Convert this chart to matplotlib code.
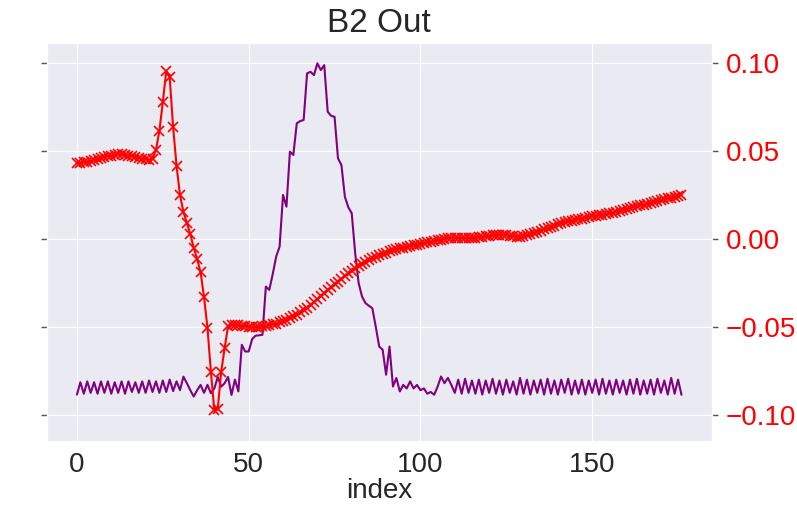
import numpy as np
import matplotlib
matplotlib.use("Agg")
import matplotlib.pyplot as plt
import seaborn as sns

# B2 output trace (right axis, red) and reference trace (left axis, purple)
b2_out = [
    0.0432, 0.0434, 0.0437, 0.0440, 0.0443, 0.0449, 0.0454, 0.0460, 0.0466, 0.0471,
    0.0474, 0.0477, 0.0480, 0.0480, 0.0477, 0.0474, 0.0471, 0.0466, 0.0460, 0.0457,
    0.0454, 0.0451, 0.0454, 0.0505, 0.0613, 0.0778, 0.0954, 0.0920, 0.0636, 0.0415,
    0.0250, 0.0153, 0.0091, 0.0028, -0.0051, -0.0114, -0.0190, -0.0330, -0.0505, -0.0755,
    -0.0975, -0.0965, -0.0754, -0.0621, -0.0495, -0.0488, -0.0490, -0.0492, -0.0494, -0.0496,
    -0.0498, -0.0499, -0.0500, -0.0499, -0.0497, -0.0494, -0.0490, -0.0486, -0.0481, -0.0475,
    -0.0468, -0.0460, -0.0451, -0.0441, -0.0430, -0.0418, -0.0405, -0.0391, -0.0376, -0.0360,
    -0.0344, -0.0327, -0.0310, -0.0293, -0.0276, -0.0259, -0.0243, -0.0227, -0.0211, -0.0196,
    -0.0182, -0.0168, -0.0155, -0.0143, -0.0132, -0.0121, -0.0111, -0.0102, -0.0093, -0.0085,
    -0.0078, -0.0071, -0.0065, -0.0059, -0.0054, -0.0049, -0.0044, -0.0040, -0.0036, -0.0032,
    -0.0028, -0.0024, -0.0020, -0.0016, -0.0012, -0.0008, -0.0004, 0.0002, 0.0004, 0.0006,
    0.0007, 0.0006, 0.0005, 0.0004, 0.0004, 0.0005, 0.0007, 0.0009, 0.0011, 0.0014,
    0.0017, 0.0020, 0.0022, 0.0023, 0.0023, 0.0021, 0.0018, 0.0015, 0.0013, 0.0013,
    0.0015, 0.0020, 0.0026, 0.0033, 0.0040, 0.0047, 0.0054, 0.0061, 0.0068, 0.0075,
    0.0082, 0.0088, 0.0094, 0.0099, 0.0104, 0.0108, 0.0112, 0.0116, 0.0120, 0.0124,
    0.0128, 0.0132, 0.0135, 0.0138, 0.0141, 0.0145, 0.0150, 0.0155, 0.0160, 0.0165,
    0.0170, 0.0175, 0.0180, 0.0185, 0.0190, 0.0195, 0.0200, 0.0205, 0.0210, 0.0215,
    0.0220, 0.0225, 0.0230, 0.0235, 0.0240, 0.0245, 0.0250,
]

ref_trace = [
    -0.0885, -0.0815, -0.0880, -0.0810, -0.0875, -0.0815, -0.0880, -0.0810, -0.0875, -0.0810,
    -0.0880, -0.0815, -0.0875, -0.0810, -0.0880, -0.0810, -0.0870, -0.0815, -0.0875, -0.0810,
    -0.0875, -0.0805, -0.0870, -0.0810, -0.0875, -0.0805, -0.0870, -0.0800, -0.0865, -0.0810,
    -0.0860, -0.0783, -0.0820, -0.0860, -0.0896, -0.0860, -0.0830, -0.0875, -0.0830, -0.0877,
    -0.0850, -0.0785, -0.0840, -0.0820, -0.0785, -0.0887, -0.0800, -0.0867, -0.0602, -0.0640,
    -0.0640, -0.0570, -0.0550, -0.0548, -0.0545, -0.0271, -0.0290, -0.0200, -0.0101, -0.0044,
    0.0250, 0.0183, 0.0496, 0.0477, 0.0657, 0.0670, 0.0676, 0.0941, 0.0950, 0.0931,
    0.0998, 0.0960, 0.0988, 0.0723, 0.0700, 0.0694, 0.0458, 0.0420, 0.0240, 0.0180,
    0.0146, -0.0081, -0.0250, -0.0328, -0.0365, -0.0380, -0.0394, -0.0500, -0.0612, -0.0630,
    -0.0772, -0.0612, -0.0839, -0.0791, -0.0867, -0.0830, -0.0850, -0.0810, -0.0850, -0.0830,
    -0.0860, -0.0850, -0.0880, -0.0870, -0.0886, -0.0840, -0.0782, -0.0820, -0.0790, -0.0830,
    -0.0875, -0.0800, -0.0880, -0.0795, -0.0875, -0.0805, -0.0880, -0.0800, -0.0885, -0.0805,
    -0.0875, -0.0795, -0.0880, -0.0805, -0.0885, -0.0800, -0.0875, -0.0810, -0.0885, -0.0790,
    -0.0880, -0.0800, -0.0885, -0.0805, -0.0875, -0.0800, -0.0885, -0.0795, -0.0880, -0.0805,
    -0.0885, -0.0800, -0.0875, -0.0795, -0.0885, -0.0805, -0.0880, -0.0800, -0.0885, -0.0805,
    -0.0875, -0.0800, -0.0885, -0.0795, -0.0880, -0.0805, -0.0885, -0.0800, -0.0875, -0.0805,
    -0.0885, -0.0800, -0.0880, -0.0795, -0.0885, -0.0805, -0.0880, -0.0800, -0.0885, -0.0795,
    -0.0875, -0.0805, -0.0885, -0.0790, -0.0880, -0.0800, -0.0886,
]

y_ticks = [-0.10, -0.05, 0.00, 0.05, 0.10]
x_ticks = [0, 50, 100, 150]

sns.set_style("darkgrid")
plt.rcParams["font.family"] = ["Liberation Sans", "DejaVu Sans"]

fig = plt.figure(figsize=(7.97, 5.07), dpi=100)
ax = fig.add_axes([0.0586, 0.1308, 0.8344, 0.7838])

ax.plot(np.arange(len(ref_trace)), ref_trace, color="purple", lw=1.5)
ax.set_ylim(-0.1147, 0.1112)
ax.set_yticks(y_ticks)
ax.set_yticklabels([])
ax.tick_params(axis="y", left=True, length=4, width=1, color="#555555")
ax.set_xticks(x_ticks)
ax.tick_params(axis="x", labelsize=20, colors="#262626", pad=5)
ax.set_xlabel("index", fontsize=20, color="#262626", labelpad=0)
ax.set_title("B2 Out", fontsize=24, color="#262626", pad=8)

ax2 = ax.twinx()
ax2.plot(np.arange(len(b2_out)), b2_out, color="red", lw=1.5,
         marker="x", markersize=7, markeredgewidth=1.2)
ax2.set_ylim(-0.1147, 0.1112)
ax2.set_yticks(y_ticks)
ax2.set_yticklabels([f"{v:.2f}".replace("-", "\u2212") for v in y_ticks])
ax2.grid(False)
ax2.tick_params(axis="y", right=True, length=4, width=1, color="#555555",
                labelsize=20, labelcolor="red", pad=6)
ax.set_xlim(-8.8, 184.8)

fig.savefig("out.png", dpi=100)
